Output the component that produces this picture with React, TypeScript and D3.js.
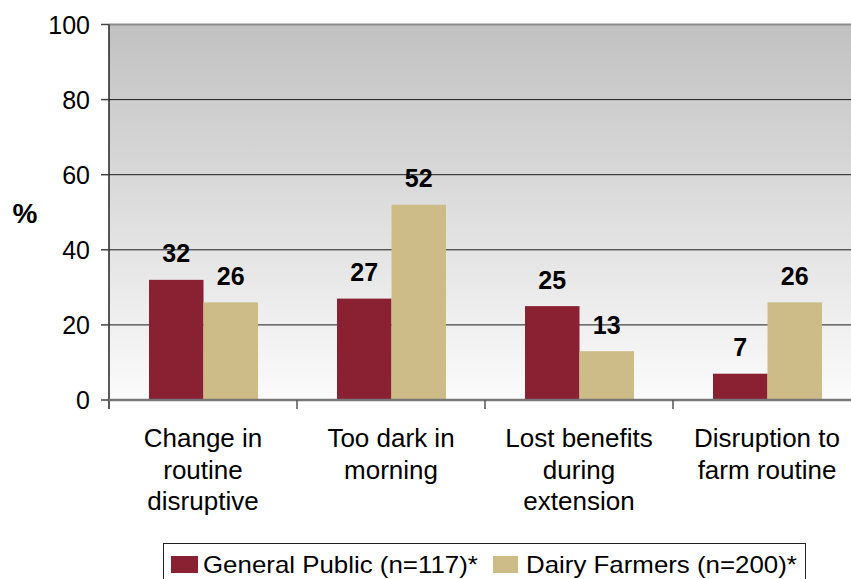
import React from "react";
import * as d3 from "d3";

const categories: string[][] = [
  ["Change in", "routine", "disruptive"],
  ["Too dark in", "morning"],
  ["Lost benefits", "during", "extension"],
  ["Disruption to", "farm routine"],
];
const seriesNames = ["General Public (n=117)*", "Dairy Farmers (n=200)*"];
const generalPublic = [32, 27, 25, 7];
const dairyFarmers = [26, 52, 13, 26];
const yTicks = [0, 20, 40, 60, 80, 100];
const colors = ["#8A2133", "#CDBB88"];

const W = 851;
const H = 579;
const left = 109;
const right = 861;
const top = 24.5;
const bottom = 400;
const FONT = "'Liberation Sans', Arial, sans-serif";

export default function App() {
  const keys = categories.map((c) => c.join(" "));
  const x = d3.scaleBand<string>().domain(keys).range([left, right]).padding(0);
  const inner = d3
    .scaleBand<string>()
    .domain(seriesNames)
    .range([40, x.bandwidth() - 39])
    .padding(0);
  const y = d3.scaleLinear().domain([0, 100]).range([bottom, top]);
  const values = [generalPublic, dairyFarmers];

  return (
    <svg
      width={W}
      height={H}
      style={{ position: "absolute", left: 0, top: 0, display: "block" }}
      fontFamily={FONT}
    >
      <defs>
        <linearGradient id="plotBg" x1="0" y1="0" x2="0" y2="1">
          <stop offset="0" stopColor="#c1c1c1" />
          <stop offset="1" stopColor="#fbfbfb" />
        </linearGradient>
      </defs>
      <rect x={left} y={top} width={right - left} height={bottom - top} fill="url(#plotBg)" />

      {/* gridlines */}
      {yTicks
        .filter((t) => t > 0 && t < 100)
        .map((t) => (
          <line key={t} x1={left} x2={right} y1={y(t)} y2={y(t)} stroke="#1a1a1a" strokeWidth={1} />
        ))}
      <line x1={left} x2={right} y1={y(100)} y2={y(100)} stroke="#8a8a8a" strokeWidth={2} />

      {/* bars */}
      {keys.map((k, ci) =>
        seriesNames.map((s, si) => {
          const v = values[si][ci];
          return (
            <rect
              key={k + s}
              x={(x(k) as number) + (inner(s) as number)}
              y={y(v)}
              width={inner.bandwidth()}
              height={y(0) - y(v)}
              fill={colors[si]}
            />
          );
        })
      )}

      {/* value labels */}
      {keys.map((k, ci) =>
        seriesNames.map((s, si) => {
          const v = values[si][ci];
          return (
            <text
              key={"l" + k + s}
              x={(x(k) as number) + (inner(s) as number) + inner.bandwidth() / 2}
              y={y(v) - 17.5}
              textAnchor="middle"
              fontSize={25}
              fontWeight="bold"
              fill="#000"
            >
              {v}
            </text>
          );
        })
      )}

      {/* axes */}
      <line x1={left} x2={left} y1={top} y2={bottom + 9} stroke="#222" strokeWidth={1.5} />
      <line x1={left} x2={right} y1={bottom} y2={bottom} stroke="#777" strokeWidth={2.5} />
      {yTicks.map((t) => (
        <g key={"yt" + t}>
          <line x1={left - 8} x2={left} y1={y(t)} y2={y(t)} stroke="#444" strokeWidth={1.5} />
          <text x={90} y={y(t)} dy="0.36em" textAnchor="end" fontSize={25} fill="#000">
            {t}
          </text>
        </g>
      ))}
      {keys.map((k) => (
        <line
          key={"xt" + k}
          x1={(x(k) as number) + x.bandwidth()}
          x2={(x(k) as number) + x.bandwidth()}
          y1={bottom}
          y2={bottom + 9}
          stroke="#555"
          strokeWidth={1.5}
        />
      ))}
      {categories.map((lines, ci) => {
        const cx = (x(keys[ci]) as number) + x.bandwidth() / 2;
        return (
          <text key={"c" + ci} x={cx} y={447} textAnchor="middle" fontSize={26} fill="#000">
            {lines.map((ln, li) => (
              <tspan key={li} x={cx} dy={li === 0 ? 0 : 31.5}>
                {ln}
              </tspan>
            ))}
          </text>
        );
      })}

      <text x={25} y={213} dy="0.36em" textAnchor="middle" fontSize={28} fontWeight="bold">
        %
      </text>

      {/* legend */}
      <rect x={163.5} y={543.5} width={642} height={60} fill="#fff" stroke="#222" strokeWidth={1} />
      <rect x={171} y={556} width={27} height={17} fill={colors[0]} />
      <text transform="translate(203,564.5) scale(1.125,1)" dy="0.36em" fontSize={23}>
        {seriesNames[0]}
      </text>
      <rect x={493} y={556} width={25} height={17} fill={colors[1]} />
      <text transform="translate(526,564.5) scale(1.125,1)" dy="0.36em" fontSize={23}>
        {seriesNames[1]}
      </text>
    </svg>
  );
}
